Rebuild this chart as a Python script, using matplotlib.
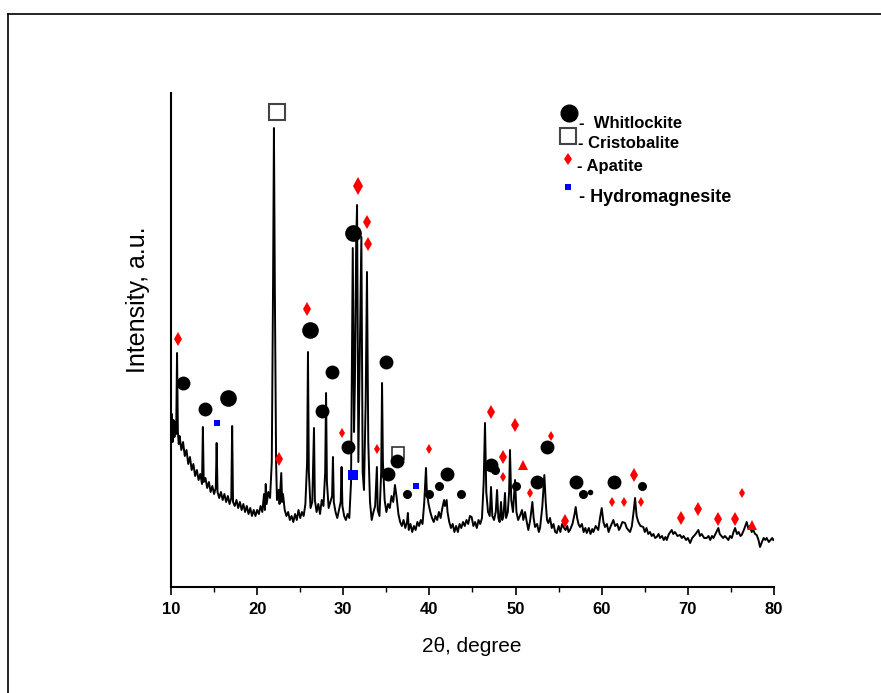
import matplotlib
matplotlib.use("Agg")
import matplotlib.pyplot as plt
from matplotlib import font_manager
from matplotlib.lines import Line2D

# ===== data: XRD trace (2theta, intensity a.u.) =====
two_theta = [
    10.0, 10.1, 10.2, 10.3, 10.4, 10.5, 10.6, 10.7, 10.8, 10.9, 11.0, 11.2, 11.4, 11.6, 11.8,
    12.0, 12.2, 12.4, 12.6, 12.8, 13.0, 13.2, 13.4, 13.6, 13.7, 13.8, 14.0, 14.2, 14.4, 14.6,
    14.8, 15.0, 15.2, 15.3, 15.4, 15.6, 15.8, 16.0, 16.2, 16.4, 16.6, 16.8, 17.0, 17.1, 17.2,
    17.4, 17.6, 17.8, 18.0, 18.2, 18.4, 18.6, 18.8, 19.0, 19.2, 19.4, 19.6, 19.8, 20.0, 20.2,
    20.4, 20.6, 20.8, 20.9, 21.0, 21.1, 21.3, 21.5, 21.7, 21.85, 21.95, 22.05, 22.2, 22.3, 22.5,
    22.6, 22.8, 22.9, 23.0, 23.2, 23.4, 23.6, 23.8,
    24.0, 24.2, 24.4, 24.6, 24.8, 25.0, 25.2, 25.4, 25.6, 25.8, 25.9, 26.0, 26.2, 26.4, 26.6,
    26.7, 26.9, 27.1, 27.3, 27.5, 27.7, 27.9, 28.0, 28.1, 28.3, 28.5, 28.7, 28.8, 28.9, 29.1,
    29.3, 29.5, 29.7, 29.8, 29.9, 30.1, 30.3, 30.5, 30.7, 30.9, 31.1, 31.25, 31.35, 31.5, 31.6,
    31.75, 31.9, 32.1, 32.25, 32.4, 32.6, 32.75, 32.9, 33.1, 33.3, 33.5, 33.7, 33.9, 34.0, 34.2,
    34.4, 34.5, 34.6, 34.8, 35.0, 35.2, 35.4, 35.6, 35.8, 36.0, 36.2, 36.4, 36.6, 36.8,
    37.0, 37.2, 37.4, 37.5, 37.6, 37.8, 38.0, 38.2, 38.4, 38.6, 38.8, 39.0, 39.2, 39.4, 39.6,
    39.7, 39.9, 40.1, 40.3, 40.5, 40.7, 40.9, 41.1, 41.3, 41.5, 41.7, 41.8, 42.0, 42.1, 42.3,
    42.5, 42.7, 42.9, 43.1, 43.3, 43.5, 43.7, 43.9, 44.1, 44.3, 44.5, 44.7, 44.9, 45.1, 45.3,
    45.5, 45.7, 45.9, 46.1, 46.3, 46.45, 46.6, 46.8, 47.0, 47.15, 47.3, 47.5, 47.7, 47.85, 48.0,
    48.15, 48.31, 48.45, 48.6, 48.77, 48.9, 49.1, 49.25, 49.35, 49.5, 49.7, 49.94, 50.1, 50.3, 50.5,
    50.75, 50.9,
    51.1, 51.3, 51.48, 51.7, 51.95, 52.1, 52.26, 52.5, 52.7, 52.84, 53.1, 53.34, 53.5, 53.65, 53.8,
    54.0, 54.2, 54.4, 54.6, 54.78, 55.0, 55.2, 55.4, 55.55, 55.8, 56.0, 56.15, 56.32, 56.6, 56.85,
    56.98, 57.15, 57.3, 57.48, 57.7, 57.9, 58.1, 58.26, 58.5, 58.7, 58.9, 59.03, 59.3, 59.6, 59.8,
    60.0, 60.2, 60.38, 60.6, 60.8, 60.96, 61.15, 61.35, 61.55, 61.8, 62.0, 62.13, 62.4, 62.71, 62.9,
    63.1, 63.29, 63.5, 63.7, 63.87, 64.05, 64.25, 64.5, 64.83, 65.0, 65.2, 65.4, 65.6, 65.8, 66.0,
    66.2, 66.38, 66.6, 66.77, 67.0, 67.2, 67.4, 67.55, 67.8, 68.13, 68.3, 68.5, 68.8, 69.1, 69.3,
    69.5, 69.8, 70.0, 70.26, 70.5, 70.7, 70.9, 71.22, 71.4, 71.6, 71.9, 72.19, 72.4, 72.6, 72.8,
    72.97, 73.2, 73.54, 73.7, 73.9, 74.1, 74.3, 74.51, 74.7, 74.9, 75.1, 75.3, 75.48, 75.7, 75.9,
    76.1, 76.25, 76.5, 76.83, 77.0, 77.2, 77.41, 77.6, 77.8, 77.99, 78.2, 78.38, 78.6, 78.8, 79.0,
    79.15, 79.4, 79.6, 79.8, 79.92,
]
intensity = [
    150, 168, 140, 162, 145, 160, 148, 229, 150, 138, 146, 132, 140, 126, 132,
    118, 125, 112, 118, 106, 112, 102, 108, 98, 155, 100, 104, 94, 100, 90,
    96, 88, 94, 139, 90, 84, 90, 82, 88, 80, 86, 78, 84, 156, 80,
    76, 82, 74, 80, 72, 78, 70, 76, 68, 74, 66, 72, 66, 72, 68,
    76, 70, 88, 72, 98, 78, 90, 84, 120, 300, 454, 300, 120, 82, 92,
    78, 109, 80, 88, 72, 66, 70, 62,
    66, 60, 68, 62, 72, 64, 70, 66, 78, 120, 230, 110, 74, 80, 154,
    82, 70, 78, 68, 82, 76, 110, 189, 100, 74, 80, 86, 125, 80, 70,
    64, 72, 80, 115, 76, 66, 62, 68, 64, 100, 334, 150, 200, 340, 377,
    120, 220, 345, 110, 92, 180, 310, 140, 80, 62, 70, 76, 115, 72, 66,
    110, 199, 120, 82, 70, 78, 74, 86, 80, 97, 84, 68, 60, 56,
    62, 54, 60, 69, 52, 58, 50, 56, 52, 60, 56, 62, 58, 80, 114,
    90, 78, 70, 64, 60, 66, 62, 70, 64, 74, 82, 76, 82, 70, 60,
    54, 58, 50, 56, 50, 58, 54, 60, 56, 62, 58, 66, 65, 56, 60,
    54, 62, 58, 64, 100, 159, 90, 70, 66, 95, 66, 62, 70, 92, 64,
    60, 80, 62, 66, 89, 64, 70, 90, 132, 82, 70, 102, 70, 62, 66,
    72, 62,
    70, 60, 52, 62, 80, 64, 55, 58, 50, 54, 75, 107, 80, 62, 59,
    64, 54, 58, 50, 49, 56, 50, 58, 55, 52, 56, 50, 52, 58, 68,
    75, 64, 58, 55, 58, 50, 54, 49, 54, 48, 53, 50, 56, 52, 64,
    74, 60, 55, 58, 50, 54, 58, 62, 56, 58, 52, 54, 60, 59, 54,
    52, 50, 56, 70, 84, 66, 60, 56, 55, 50, 54, 48, 50, 46, 48,
    44, 45, 48, 44, 46, 42, 45, 42, 48, 52, 48, 50, 46, 47, 44,
    46, 42, 44, 39, 44, 46, 48, 52, 46, 48, 44, 44, 46, 42, 46,
    44, 48, 54, 48, 46, 44, 46, 44, 42, 46, 44, 50, 54, 48, 50,
    46, 47, 52, 60, 54, 56, 50, 52, 48, 47, 42, 35, 40, 44, 42,
    44, 40, 42, 44, 42,
]

# ===== phase markers (peak position, label height) =====
whit_big_x = [26.14, 31.13, 16.62]
whit_big_y = [252, 349, 184]
whit_mid_x = [11.39, 13.95, 28.69, 27.53, 30.55, 34.96, 35.19, 36.24, 42.04, 47.15,
              53.65, 52.49, 57.02, 61.43]
whit_mid_y = [199, 173, 210, 171, 135, 220, 108, 121, 108, 117,
              135, 100, 100, 100]
whit_small_x = [37.40, 39.95, 41.11, 43.67, 47.61, 50.05, 57.83, 64.68]
whit_small_y = [88, 88, 96, 88, 112, 96, 88, 96]
whit_tiny_x = [58.64]
whit_tiny_y = [90]

crist_x = [22.31]
crist_y = [470]
crist_small_x = [36.35]
crist_small_y = [129]

apat_big_x = [31.71]
apat_big_y = [396]
apat_mid_x = [10.81, 25.79, 32.75, 32.87, 22.54, 47.15, 49.94, 48.54, 55.74, 63.75,
              69.21, 71.18, 73.50, 75.48]
apat_mid_y = [243, 273, 360, 338, 123, 170, 157, 125, 61, 107,
              64, 73, 63, 63]
apat_small_x = [29.85, 33.91, 39.95, 48.54, 51.68, 54.11, 61.20, 62.59, 64.56, 76.29]
apat_small_y = [149, 133, 133, 105, 89, 146, 80, 80, 80, 89]
apat_tri_x = [50.86, 77.45]
apat_tri_y = [117, 57]

hydro_x = [15.34, 31.13, 38.44]
hydro_y = [159, 107, 96]

legend_labels = ["-  Whitlockite", "- Cristobalite", "- Apatite", "- Hydromagnesite"]
x_ticks = [10, 20, 30, 40, 50, 60, 70, 80]

# ===== fonts =====
installed = {f.name for f in font_manager.fontManager.ttflist}
tick_family = "Liberation Sans Narrow" if "Liberation Sans Narrow" in installed else "Liberation Sans"
tick_size = 13 if tick_family == "Liberation Sans Narrow" else 12
plt.rcParams["font.family"] = ["Liberation Sans", "DejaVu Sans"]

W, H = 881, 693
fig = plt.figure(figsize=(W / 100, H / 100), dpi=100)
ax = fig.add_axes([171 / W, (H - 587) / H, 603 / W, 494 / H])

# noisy trace: drawn a bit thick to look like the dense scan
ax.plot(two_theta, intensity, color="black", lw=1.4, zorder=2)

# markers
ax.plot(whit_big_x, whit_big_y, "o", ms=12, color="black", mew=0, zorder=4)
ax.plot(whit_mid_x, whit_mid_y, "o", ms=10, color="black", mew=0, zorder=4)
ax.plot(whit_small_x, whit_small_y, "o", ms=6.5, color="black", mew=0, zorder=4)
ax.plot(whit_tiny_x, whit_tiny_y, "o", ms=4, color="black", mew=0, zorder=4)
ax.plot(crist_x, crist_y, "s", ms=12, mfc="white", mec="#444444", mew=1.5, zorder=3)
ax.plot(crist_small_x, crist_small_y, "s", ms=8, mfc="white", mec="#333333", mew=1.2, zorder=3)
ax.plot(apat_big_x, apat_big_y, "d", ms=9, color="red", mew=0, zorder=4)
ax.plot(apat_mid_x, apat_mid_y, "d", ms=7.5, color="red", mew=0, zorder=4)
ax.plot(apat_small_x, apat_small_y, "d", ms=5.5, color="red", mew=0, zorder=4)
ax.plot(apat_tri_x, apat_tri_y, "^", ms=6.5, color="red", mew=0, zorder=4)
ax.plot(hydro_x[:1], hydro_y[:1], "s", ms=4.5, color="blue", mew=0, zorder=4)
ax.plot(hydro_x[1:2], hydro_y[1:2], "s", ms=6.5, color="blue", mew=0, zorder=4)
ax.plot(hydro_x[2:], hydro_y[2:], "s", ms=4, color="blue", mew=0, zorder=4)

# hand-made legend (top right)
ax.plot([56.24], [469], "o", ms=13, color="black", mew=0, clip_on=False)
ax.plot([56.13], [446], "s", ms=11.5, mfc="white", mec="#444444", mew=1.5, clip_on=False)
ax.plot([56.13], [423], "d", ms=6.5, color="red", mew=0, clip_on=False)
ax.plot([56.13], [395], "s", ms=5, color="blue", mew=0, clip_on=False)
legend_pos = [(57.4, 459, 12), (57.2, 438, 12), (57.1, 415, 12), (57.4, 385, 13)]
for (lx, ly, fs), lab in zip(legend_pos, legend_labels):
    ax.text(lx, ly, lab, fontsize=fs, fontweight="bold", ha="left", va="center")

# axes styling
ax.set_xlim(10, 80)
ax.set_ylim(-5, 489)
ax.spines["top"].set_visible(False)
ax.spines["right"].set_visible(False)
ax.spines["left"].set_linewidth(1.5)
ax.spines["bottom"].set_linewidth(1.5)
ax.set_yticks([])
ax.set_xticks(x_ticks)
ax.set_xticks(range(15, 80, 10), minor=True)
ax.tick_params(axis="x", which="major", direction="out", length=6, width=1.2, pad=5)
ax.tick_params(axis="x", which="minor", direction="out", length=3.5, width=1)
for lab in ax.get_xticklabels():
    lab.set_fontfamily(tick_family)
    lab.set_fontsize(tick_size)
    lab.set_fontweight("bold")

fig.text(472 / W, 1 - 646 / H, "2θ, degree", fontsize=15, ha="center", va="center")
fig.text(138 / W, 1 - 300 / H, "Intensity, a.u.", fontsize=18, rotation=90,
         ha="center", va="center")

# outer frame lines (top and left only)
fig.add_artist(Line2D([8 / W, 1], [1 - 14 / H, 1 - 14 / H], color="black", lw=1.2,
                      transform=fig.transFigure))
fig.add_artist(Line2D([8 / W, 8 / W], [0, 1 - 14 / H], color="black", lw=1.2,
                      transform=fig.transFigure))

fig.savefig("out.png", dpi=100)
